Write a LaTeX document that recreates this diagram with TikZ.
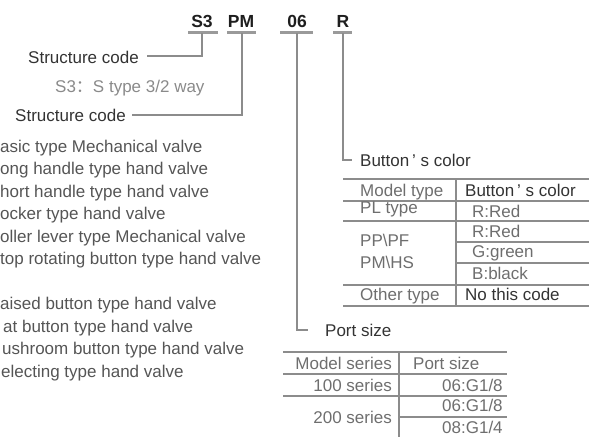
\documentclass[tikz,border=0pt]{standalone}
\usepackage{fontspec}
\setmainfont{Liberation Sans}
\newfontfamily\cjkfont{Noto Sans CJK SC}
\definecolor{codecol}{HTML}{1E1E1E}
\definecolor{labcol}{HTML}{333333}
\definecolor{lightcol}{HTML}{8A8A8A}
\definecolor{listcol}{HTML}{555555}
\definecolor{tabcol}{HTML}{6E6E6E}
\definecolor{linecol}{HTML}{8C8C8C}
\definecolor{barcol}{HTML}{9A9A9A}
\begin{document}
\begin{tikzpicture}[x=1pt,y=-1pt,
  txt/.style={inner sep=0pt, anchor=base west, font=\fontsize{17}{20}\selectfont},
  codetxt/.style={inner sep=0pt, anchor=base, text=codecol, font=\fontsize{17.5}{20}\selectfont\bfseries},
  labtxt/.style={txt, text=labcol},
  lighttxt/.style={txt, text=lightcol},
  listtxt/.style={txt, text=listcol},
  tabtxt/.style={txt, text=tabcol},
  tabtxtr/.style={inner sep=0pt, anchor=base east, text=tabcol, font=\fontsize{17}{20}\selectfont},
  codebar/.style={draw=barcol, line width=3pt},
  conn/.style={draw=linecol, line width=1.4pt},
  hrule/.style={draw=linecol, line width=2pt},
  vrule/.style={draw=linecol, line width=1.2pt}
]
\useasboundingbox (0,0) rectangle (589,437);

% code letters
\node[codetxt] (cS) at (202,27) {S3};
\node[codetxt] (cPM) at (241,27) {PM};
\node[codetxt] (c06) at (297,27) {06};
\node[codetxt] (cR) at (343,27) {R};

% underline bars
\draw[codebar] (188,32) -- (218,32);
\draw[codebar] (227,32) -- (256,32);
\draw[codebar] (280,32) -- (313,32);
\draw[codebar] (333,32) -- (352,32);

% connector anchor points
\coordinate (pS) at (202,33);
\coordinate (pPM) at (242,33);
\coordinate (p06) at (297,33);
\coordinate (pR) at (343,33);
\coordinate (eS) at (147,56);
\coordinate (ePM) at (132,115);
\coordinate (e06) at (308,330);
\coordinate (eR) at (352,160);

\draw[conn] (pS) |- (eS);
\draw[conn] (pPM) |- (ePM);
\draw[conn] (p06) |- (e06);
\draw[conn] (pR) |- (eR);

% left labels
\node[labtxt] (sc1) at (28,63) {Structure code};
\node[lighttxt] (s3desc) at (55,92) {S3{\cjkfont ：}S type 3/2 way};
\node[labtxt] (sc2) at (15,121) {Structure code};

% list
\node[listtxt] (l1) at (0,152) {asic type Mechanical valve};
\node[listtxt] (l2) at (0,174.5) {ong handle type hand valve};
\node[listtxt] (l3) at (0,197) {hort handle type hand valve};
\node[listtxt] (l4) at (0,219.5) {ocker type hand valve};
\node[listtxt] (l5) at (0,242) {oller lever type Mechanical valve};
\node[listtxt] (l6) at (0,264.5) {top rotating button type hand valve};
\node[listtxt] (l7) at (0,309.5) {aised button type hand valve};
\node[listtxt] (l8) at (3,332) {at button type hand valve};
\node[listtxt] (l9) at (2,354.5) {ushroom button type hand valve};
\node[listtxt] (l10) at (1,377) {electing type hand valve};

% Button's color label and table
\node[labtxt] (bclab) at (360,166) {Button\,’\ s color};
\draw[hrule] (343,179) -- (589,179);
\draw[hrule] (343,201) -- (589,201);
\draw[hrule] (343,221) -- (589,221);
\draw[hrule] (456,242) -- (589,242);
\draw[hrule] (456,263) -- (589,263);
\draw[hrule] (343,285) -- (589,285);
\draw[hrule] (343,306) -- (589,306);
\draw[vrule] (456,179) -- (456,306);
\node[tabtxt] (bh1) at (360,196) {Model type};
\node[tabtxt, text=labcol] (bh2) at (465,196) {Button\,’\ s color};
\node[tabtxt] (bpl) at (360,213) {PL type};
\node[tabtxt] (br1) at (472,217) {R:Red};
\node[tabtxt] (bpp) at (360,246) {PP\textbackslash PF};
\node[tabtxt] (bpm) at (360,268) {PM\textbackslash HS};
\node[tabtxt] (br2) at (472,237) {R:Red};
\node[tabtxt] (bg) at (472,257) {G:green};
\node[tabtxt] (bb) at (472,279) {B:black};
\node[tabtxt] (bot) at (360,300) {Other type};
\node[tabtxt, text=labcol] (bno) at (465,300) {No this code};

% Port size label and table
\node[labtxt] (pslab) at (325,336) {Port size};
\draw[hrule] (283,352) -- (507,352);
\draw[hrule] (283,374) -- (507,374);
\draw[hrule] (283,396) -- (507,396);
\draw[hrule] (399,416.5) -- (507,416.5);
\draw[vrule] (399,352) -- (399,437);
\node[tabtxtr] (ph1) at (392,369) {Model series};
\node[tabtxt] (ph2) at (413,369) {Port size};
\node[tabtxtr] (p100) at (392,391) {100 series};
\node[tabtxt] (pv1) at (442,391) {06:G1/8};
\node[tabtxtr] (p200) at (392,423) {200 series};
\node[tabtxt] (pv2) at (442,411) {06:G1/8};
\node[tabtxt] (pv3) at (442,433) {08:G1/4};
\end{tikzpicture}
\end{document}
